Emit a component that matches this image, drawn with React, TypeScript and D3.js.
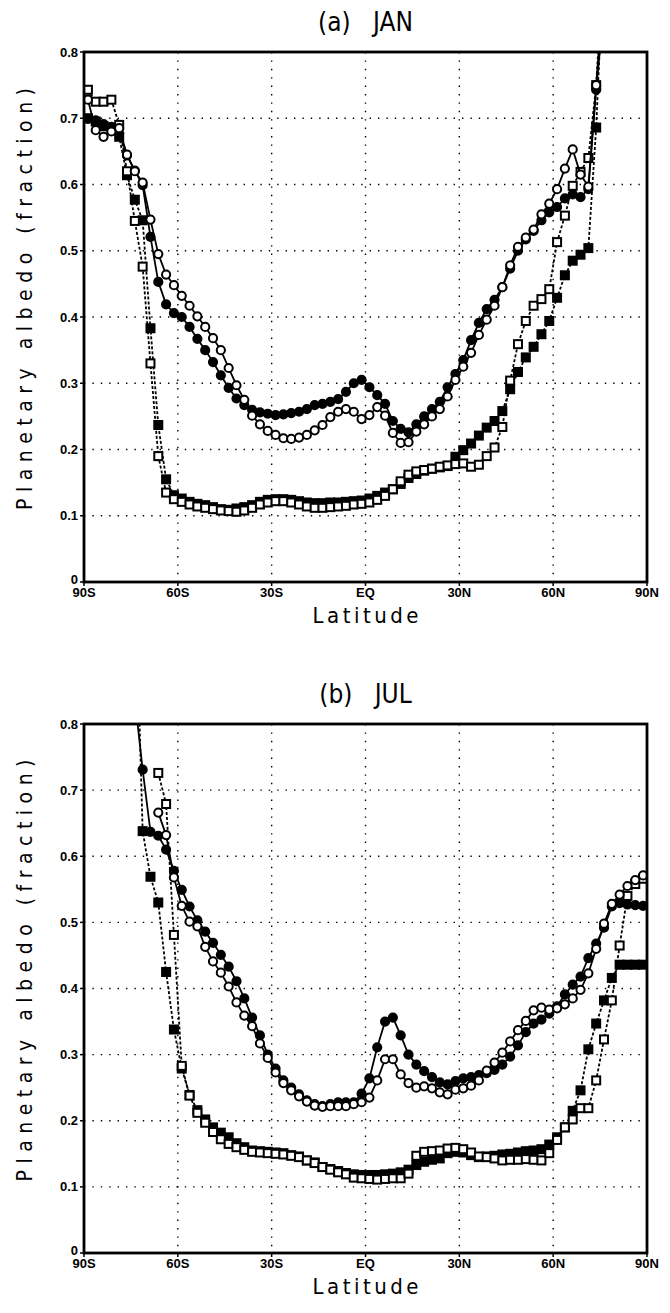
import React from "react";
import * as d3 from "d3";

// Latitude centres (degrees, negative = south)
const LATS = [
  -88.75, -86.25, -83.75, -81.25, -78.75, -76.25, -73.75, -71.25, -68.75, -66.25,
  -63.75, -61.25, -58.75, -56.25, -53.75, -51.25, -48.75, -46.25, -43.75, -41.25,
  -38.75, -36.25, -33.75, -31.25, -28.75, -26.25, -23.75, -21.25, -18.75, -16.25,
  -13.75, -11.25, -8.75, -6.25, -3.75, -1.25, 1.25, 3.75, 6.25, 8.75,
  11.25, 13.75, 16.25, 18.75, 21.25, 23.75, 26.25, 28.75, 31.25, 33.75,
  36.25, 38.75, 41.25, 43.75, 46.25, 48.75, 51.25, 53.75, 56.25, 58.75,
  61.25, 63.75, 66.25, 68.75, 71.25, 73.75, 76.25, 78.75, 81.25, 83.75,
  86.25, 88.75,
];

const X_TICKS = [-90, -60, -30, 0, 30, 60, 90];
const X_TICK_LABELS = ["90S", "60S", "30S", "EQ", "30N", "60N", "90N"];
const Y_TICKS = [0, 0.1, 0.2, 0.3, 0.4, 0.5, 0.6, 0.7, 0.8];
const Y_TICK_LABELS = ["0", "0.1", "0.2", "0.3", "0.4", "0.5", "0.6", "0.7", "0.8"];

// ---- (a) JAN ----
const JAN_FILLED_CIRCLE = [
  0.699, 0.697, 0.691, 0.687, 0.677, 0.644, 0.621, 0.599, 0.521, 0.453,
  0.419, 0.406, 0.400, 0.385, 0.367, 0.350, 0.332, 0.312, 0.293, 0.277,
  0.267, 0.260, 0.256, 0.254, 0.252, 0.253, 0.255, 0.257, 0.261, 0.267,
  0.269, 0.272, 0.276, 0.287, 0.300, 0.305, 0.294, 0.282, 0.269, 0.243,
  0.231, 0.226, 0.238, 0.250, 0.261, 0.272, 0.294, 0.314, 0.335, 0.365,
  0.391, 0.412, 0.426, 0.445, 0.473, 0.500, 0.517, 0.530, 0.546, 0.558,
  0.566, 0.579, 0.585, 0.581, 0.593, 0.743, 0.870, null, null, null,
  null, null,
];
const JAN_OPEN_CIRCLE = [
  0.728, 0.682, 0.672, 0.680, 0.685, 0.645, 0.620, 0.603, 0.547, 0.495,
  0.464, 0.448, 0.432, 0.417, 0.401, 0.385, 0.368, 0.350, 0.323, 0.297,
  0.275, 0.251, 0.238, 0.228, 0.222, 0.217, 0.216, 0.218, 0.222, 0.229,
  0.237, 0.249, 0.257, 0.261, 0.257, 0.246, 0.252, 0.264, 0.251, 0.225,
  0.210, 0.211, 0.227, 0.238, 0.250, 0.261, 0.280, 0.305, 0.325, 0.346,
  0.373, 0.396, 0.417, 0.445, 0.478, 0.506, 0.520, 0.532, 0.555, 0.571,
  0.593, 0.624, 0.653, 0.615, 0.597, 0.750, 0.900, null, null, null,
  null, null,
];
const JAN_FILLED_SQUARE = [
  0.700, 0.695, 0.688, 0.682, 0.672, 0.614, 0.577, 0.546, 0.383, 0.237,
  0.155, 0.131, 0.126, 0.121, 0.118, 0.116, 0.113, 0.110, 0.109, 0.111,
  0.113, 0.116, 0.121, 0.124, 0.125, 0.125, 0.124, 0.122, 0.120, 0.119,
  0.119, 0.120, 0.120, 0.121, 0.122, 0.123, 0.126, 0.130, 0.135, 0.140,
  0.148, 0.157, 0.163, 0.168, 0.171, 0.173, 0.175, 0.189, 0.199, 0.209,
  0.221, 0.233, 0.243, 0.258, 0.291, 0.317, 0.339, 0.355, 0.374, 0.394,
  0.429, 0.463, 0.485, 0.494, 0.504, 0.686, 0.950, null, null, null,
  null, null,
];
const JAN_OPEN_SQUARE = [
  0.743, 0.725, 0.725, 0.728, 0.690, 0.620, 0.545, 0.476, 0.330, 0.190,
  0.135, 0.125, 0.121, 0.117, 0.114, 0.112, 0.110, 0.108, 0.107, 0.106,
  0.108, 0.112, 0.117, 0.120, 0.122, 0.122, 0.120, 0.117, 0.114, 0.112,
  0.112, 0.113, 0.114, 0.115, 0.117, 0.118, 0.120, 0.124, 0.130, 0.140,
  0.152, 0.162, 0.167, 0.169, 0.171, 0.174, 0.176, 0.178, 0.179, 0.174,
  0.177, 0.190, 0.203, 0.234, 0.304, 0.359, 0.394, 0.417, 0.427, 0.442,
  0.513, 0.553, 0.598, 0.619, 0.640, 0.750, 0.950, null, null, null,
  null, null,
];

// ---- (b) JUL ----
const JUL_FILLED_CIRCLE = [
  null, null, null, null, null, null, 0.838, 0.731, 0.637, 0.631,
  0.610, 0.578, 0.549, 0.524, 0.503, 0.486, 0.469, 0.451, 0.433, 0.411,
  0.385, 0.356, 0.329, 0.300, 0.279, 0.261, 0.250, 0.240, 0.231, 0.225,
  0.222, 0.225, 0.228, 0.228, 0.228, 0.241, 0.264, 0.311, 0.350, 0.356,
  0.329, 0.300, 0.285, 0.275, 0.266, 0.258, 0.255, 0.260, 0.264, 0.266,
  0.269, 0.272, 0.277, 0.285, 0.297, 0.314, 0.334, 0.347, 0.353, 0.362,
  0.373, 0.391, 0.406, 0.418, 0.446, 0.468, 0.492, 0.524, 0.529, 0.527,
  0.526, 0.525,
];
const JUL_OPEN_CIRCLE = [
  null, null, null, null, null, null, null, null, null, 0.666,
  0.632, 0.568, 0.525, 0.501, 0.494, 0.463, 0.441, 0.424, 0.403, 0.379,
  0.359, 0.343, 0.317, 0.295, 0.273, 0.257, 0.246, 0.237, 0.229, 0.223,
  0.221, 0.222, 0.222, 0.222, 0.225, 0.228, 0.235, 0.261, 0.293, 0.293,
  0.270, 0.257, 0.250, 0.252, 0.249, 0.243, 0.240, 0.247, 0.249, 0.253,
  0.261, 0.276, 0.288, 0.303, 0.320, 0.337, 0.351, 0.367, 0.371, 0.368,
  0.370, 0.376, 0.385, 0.398, 0.423, 0.460, 0.498, 0.528, 0.542, 0.555,
  0.564, 0.571,
];
const JUL_FILLED_SQUARE = [
  null, null, null, null, null, null, 1.05, 0.638, 0.569, 0.530,
  0.425, 0.338, 0.279, 0.239, 0.216, 0.202, 0.190, 0.182, 0.175, 0.166,
  0.160, 0.155, 0.154, 0.153, 0.152, 0.151, 0.148, 0.146, 0.140, 0.137,
  0.130, 0.127, 0.124, 0.121, 0.119, 0.118, 0.118, 0.118, 0.119, 0.120,
  0.122, 0.126, 0.133, 0.138, 0.141, 0.143, 0.151, 0.153, 0.152, 0.148,
  0.145, 0.146, 0.147, 0.149, 0.150, 0.152, 0.154, 0.155, 0.157, 0.164,
  0.175, 0.190, 0.215, 0.246, 0.308, 0.347, 0.382, 0.416, 0.436, 0.436,
  0.436, 0.436,
];
const JUL_OPEN_SQUARE = [
  null, null, null, null, null, null, null, null, null, 0.726,
  0.679, 0.481, 0.283, 0.238, 0.212, 0.197, 0.183, 0.172, 0.165, 0.160,
  0.156, 0.153, 0.152, 0.151, 0.150, 0.149, 0.147, 0.145, 0.140, 0.136,
  0.130, 0.126, 0.122, 0.119, 0.114, 0.113, 0.112, 0.111, 0.112, 0.113,
  0.113, 0.120, 0.147, 0.153, 0.154, 0.155, 0.158, 0.159, 0.157, 0.152,
  0.146, 0.145, 0.143, 0.140, 0.141, 0.141, 0.142, 0.141, 0.140, 0.151,
  0.171, 0.190, 0.202, 0.219, 0.219, 0.261, 0.323, 0.382, 0.465, 0.540,
  0.558, 0.566,
];

const W = 670;
const H = 1313;
const X_LEFT = 84;
const X_RIGHT = 647;

type Vals = (number | null)[];
interface SeriesDef {
  values: Vals;
  marker: "circle" | "square";
  filled: boolean;
  dashed: boolean;
}

const LABEL_FONT = "'DejaVu Sans Condensed', 'Liberation Sans Narrow', 'DejaVu Sans', sans-serif";
const TICK_FONT = "'Liberation Sans Narrow', 'Liberation Sans', Arial, sans-serif";

function Panel(props: {
  id: string;
  top: number;
  bottom: number;
  title: string;
  series: SeriesDef[];
}) {
  const { id, top, bottom, title, series } = props;
  const x = d3.scaleLinear().domain([-90, 90]).range([X_LEFT, X_RIGHT]);
  const y = d3.scaleLinear().domain([0, 0.8]).range([bottom, top]);
  const clipId = `clip-${id}`;
  const midY = (top + bottom) / 2;
  const midX = (X_LEFT + X_RIGHT) / 2;

  const line = d3
    .line<[number, number | null]>()
    .defined((d) => d[1] !== null)
    .x((d) => x(d[0]))
    .y((d) => y(d[1] as number));

  return (
    <g>
      <defs>
        <clipPath id={clipId}>
          <rect x={X_LEFT} y={top} width={X_RIGHT - X_LEFT} height={bottom - top} />
        </clipPath>
      </defs>
      {/* title */}
      <text
        x={midX}
        y={top - 21}
        textAnchor="middle"
        fontFamily={LABEL_FONT}
        fontSize={26}
        style={{ whiteSpace: "pre" }}
      >
        {title}
      </text>
      {/* grid */}
      <g stroke="#000" strokeWidth={1.4} strokeDasharray="1.4,7" fill="none">
        {Y_TICKS.filter((t) => t > 0 && t < 0.8).map((t) => (
          <line key={`h${t}`} x1={X_LEFT} x2={X_RIGHT} y1={y(t)} y2={y(t)} />
        ))}
        {X_TICKS.filter((t) => t > -90 && t < 90).map((t) => (
          <line key={`v${t}`} x1={x(t)} x2={x(t)} y1={top} y2={bottom} />
        ))}
      </g>
      {/* data */}
      <g clipPath={`url(#${clipId})`}>
        {series.map((s, si) => {
          const pts: [number, number | null][] = LATS.map((l, i) => [l, s.values[i]]);
          return (
            <g key={si}>
              <path
                d={line(pts) || ""}
                fill="none"
                stroke="#000"
                strokeWidth={1.8}
                strokeDasharray={s.dashed ? "3,2" : undefined}
              />
              {pts
                .filter((p) => p[1] !== null && (p[1] as number) <= 0.82)
                .map((p, i) =>
                  s.marker === "circle" ? (
                    <circle
                      key={i}
                      cx={x(p[0])}
                      cy={y(p[1] as number)}
                      r={4.1}
                      fill={s.filled ? "#000" : "#fff"}
                      stroke="#000"
                      strokeWidth={2}
                    />
                  ) : (
                    <rect
                      key={i}
                      x={x(p[0]) - 4}
                      y={y(p[1] as number) - 4}
                      width={8}
                      height={8}
                      fill={s.filled ? "#000" : "#fff"}
                      stroke="#000"
                      strokeWidth={2}
                    />
                  )
                )}
            </g>
          );
        })}
      </g>
      {/* frame */}
      <rect
        x={X_LEFT}
        y={top}
        width={X_RIGHT - X_LEFT}
        height={bottom - top}
        fill="none"
        stroke="#000"
        strokeWidth={2.8}
      />
      {/* y ticks */}
      {Y_TICKS.map((t, i) => (
        <g key={`yt${i}`}>
          <line x1={X_LEFT - 4} x2={X_LEFT} y1={y(t)} y2={y(t)} stroke="#000" strokeWidth={1.5} />
          <text
            x={X_LEFT - 6}
            y={y(t) + (t === 0 ? 2 : 4.5)}
            textAnchor="end"
            fontFamily={TICK_FONT}
            fontWeight="bold"
            fontSize={13}
          >
            {Y_TICK_LABELS[i]}
          </text>
        </g>
      ))}
      {/* x ticks */}
      {X_TICKS.map((t, i) => (
        <g key={`xt${i}`}>
          <line x1={x(t)} x2={x(t)} y1={bottom} y2={bottom + 4} stroke="#000" strokeWidth={1.5} />
          <text
            x={x(t)}
            y={bottom + 15}
            textAnchor="middle"
            fontFamily={TICK_FONT}
            fontWeight="bold"
            fontSize={13}
          >
            {X_TICK_LABELS[i]}
          </text>
        </g>
      ))}
      {/* axis titles */}
      <text
        x={midX}
        y={bottom + 41}
        textAnchor="middle"
        fontFamily={LABEL_FONT}
        fontSize={22}
        textLength={106}
        lengthAdjust="spacing"
      >
        Latitude
      </text>
      <text
        transform={`translate(32, ${midY - 18}) rotate(-90)`}
        textAnchor="middle"
        fontFamily={LABEL_FONT}
        fontSize={21}
        textLength={422}
        lengthAdjust="spacing"
      >
        Planetary albedo (fraction)
      </text>
    </g>
  );
}

export default function App() {
  const janSeries: SeriesDef[] = [
    { values: JAN_FILLED_SQUARE, marker: "square", filled: true, dashed: true },
    { values: JAN_OPEN_SQUARE, marker: "square", filled: false, dashed: true },
    { values: JAN_FILLED_CIRCLE, marker: "circle", filled: true, dashed: false },
    { values: JAN_OPEN_CIRCLE, marker: "circle", filled: false, dashed: false },
  ];
  const julSeries: SeriesDef[] = [
    { values: JUL_FILLED_SQUARE, marker: "square", filled: true, dashed: true },
    { values: JUL_OPEN_SQUARE, marker: "square", filled: false, dashed: true },
    { values: JUL_FILLED_CIRCLE, marker: "circle", filled: true, dashed: false },
    { values: JUL_OPEN_CIRCLE, marker: "circle", filled: false, dashed: false },
  ];
  return (
    <svg
      width={W}
      height={H}
      viewBox={`0 0 ${W} ${H}`}
      style={{ position: "absolute", left: 0, top: 0, background: "#fff" }}
    >
      <rect x={0} y={0} width={W} height={H} fill="#fff" />
      <Panel id="a" top={52} bottom={582} title="(a)   JAN" series={janSeries} />
      <Panel id="b" top={724} bottom={1253} title="(b)   JUL" series={julSeries} />
    </svg>
  );
}
